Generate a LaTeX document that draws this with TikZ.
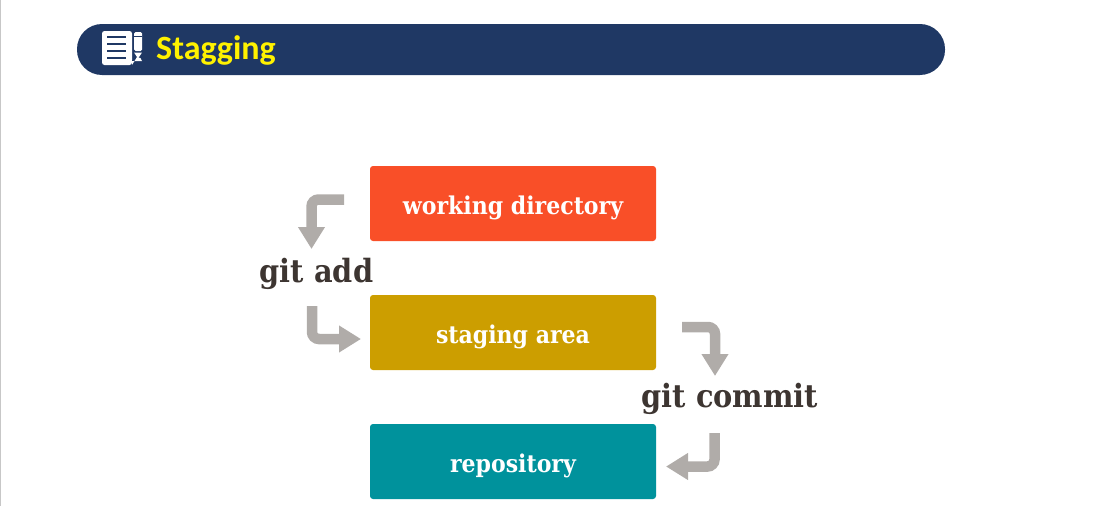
\documentclass[tikz,border=0pt]{standalone}
\usepackage{fontspec}
\setmainfont{DejaVu Serif}
\newfontfamily\titlefont{Carlito}
\newfontfamily\slabfont{DejaVu Serif Condensed}
\usetikzlibrary{arrows.meta}
\definecolor{navy}{HTML}{1F3864}
\definecolor{workcol}{HTML}{F94F28}
\definecolor{stagecol}{HTML}{CC9E00}
\definecolor{repocol}{HTML}{00929C}
\definecolor{arrowcol}{HTML}{B0ACA9}
\definecolor{inkcol}{HTML}{3D3531}
\tikzset{
    area/.style={fill=#1,rounded corners=3pt,minimum width=286pt,minimum height=75pt,inner sep=0pt,
      text height=22.5pt,text depth=1.5pt,
      text=white,font=\slabfont\bfseries\fontsize{24.5}{25}\selectfont},
    cmd/.style={anchor=base,text=inkcol,inner sep=0pt,font=\slabfont\bfseries\fontsize{32}{32}\selectfont},
    flow/.style={draw=arrowcol,line width=10.5pt,rounded corners=7pt,
      -{Triangle[length=22pt,width=25.5pt]}},
  }
\begin{document}
\begin{tikzpicture}[x=1pt,y=-1pt]
	  \useasboundingbox (0,0) rectangle (1096,506);
	  \draw[black!22,line width=1.2pt] (0.6,0) -- (0.6,506);
	  
	  %BANDEAU
	  \node[fill=navy,rounded corners=25pt,minimum width=868pt,minimum height=51pt,inner sep=0pt] (banner) at (511,49.5) {};
	  \node[anchor=base west,inner sep=0pt,text=yellow,font=\titlefont\bfseries\fontsize{34}{34}\selectfont] (title) at (156,59.5) {Stagging};
	  
	  %ICONE
	  \fill[white,rounded corners=2.5pt] (102,31) rectangle (132,65);
	  \foreach \y in {37,44,51,58}
	    \draw[navy,line width=1.6pt] (107,\y) -- (126,\y);
	  \fill[white,rounded corners=1.5pt] (134,32) rectangle (142,51);
	  \fill[navy] (134,36) rectangle (142,37);
	  \fill[white] (134,52.5) -- (142,52.5) -- (138,58.5) -- cycle;
	  \fill[navy] (132,59.5) rectangle (143,60.5);
	  \fill[white] (132,61) -- (142,61) arc[start angle=0,end angle=90,x radius=5,y radius=-4] -- (132,65) -- cycle;
	  
	  %BOITES
	  \node[area=workcol] (work) at (513,203.5) {working directory};
	  \node[area=stagecol] (stage) at (513,332.5) {staging area};
	  \node[area=repocol] (repo) at (513,461.5) {repository};
	  
	  %COMMANDES
	  \node[cmd] (add) at (316.5,282) {git add};
	  \node[cmd] (commit) at (730,407.5) {git commit};
	  
	  %FLECHES
	  \coordinate (a1) at (344,199.5);
	  \coordinate (a2) at (311.5,249);
	  \coordinate (b1) at (312,306);
	  \coordinate (b2) at (361,339);
	  \coordinate (c1) at (682,327);
	  \coordinate (c2) at (715,376);
	  \coordinate (d1) at (714.5,433);
	  \coordinate (d2) at (666,466.5);
	  \draw[flow] (a1) -| (a2);
	  \draw[flow] (b1) |- (b2);
	  \draw[flow] (c1) -| (c2);
	  \draw[flow] (d1) |- (d2);
\end{tikzpicture}
\end{document}
